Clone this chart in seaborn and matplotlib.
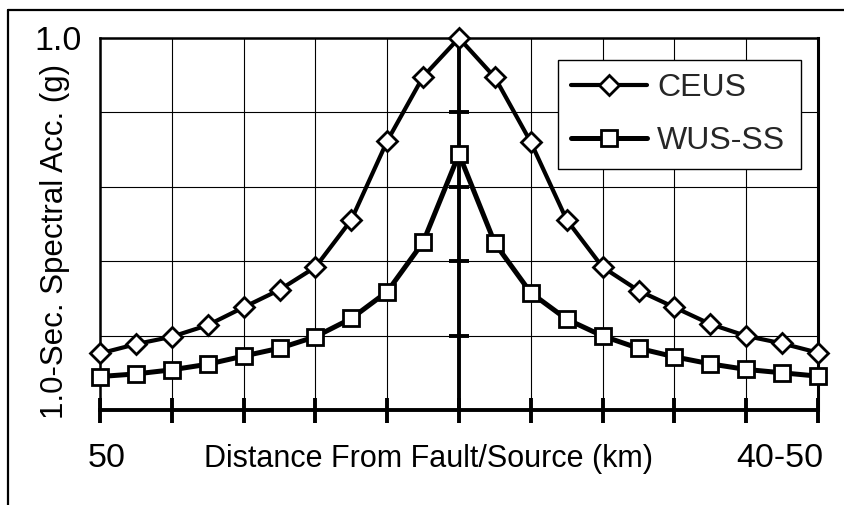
import matplotlib
matplotlib.use("Agg")
import matplotlib.pyplot as plt
import seaborn as sns
import pandas as pd
from matplotlib.lines import Line2D

# ---- data ----
distance_km = [-50, -45, -40, -35, -30, -25, -20, -15, -10, -5, 0,
               5, 10, 15, 20, 25, 30, 35, 40, 45, 50]
ceus = [0.152, 0.177, 0.197, 0.228, 0.276, 0.323, 0.384, 0.511, 0.723, 0.896, 1.0,
        0.894, 0.720, 0.511, 0.384, 0.321, 0.276, 0.231, 0.199, 0.179, 0.154]
wus_ss = [0.090, 0.097, 0.108, 0.123, 0.145, 0.166, 0.197, 0.246, 0.318, 0.451, 0.688,
          0.448, 0.315, 0.244, 0.199, 0.166, 0.143, 0.124, 0.109, 0.100, 0.091]
series_names = ["CEUS", "WUS-SS"]
x_ticks = [-50, -40, -30, -20, -10, 0, 10, 20, 30, 40, 50]
y_ticks = [0.0, 0.2, 0.4, 0.6, 0.8, 1.0]
y_tick_labels = ["", "", "", "", "", "1.0"]
center_marks = [0.2, 0.4, 0.6, 0.8]
x_end_labels = ["50", "40-50"]
x_label = "Distance From Fault/Source (km)"
y_label = "1.0-Sec. Spectral Acc. (g)"

df_ceus = pd.DataFrame({"distance": distance_km, "acc": ceus})
df_wus = pd.DataFrame({"distance": distance_km, "acc": wus_ss})

sns.set_theme(style="white")
plt.rcParams["font.family"] = ["Liberation Sans", "DejaVu Sans"]

fig = plt.figure(figsize=(8.44, 5.05), dpi=100)
ax = fig.add_axes([100/844, 1 - 410/505, 718/844, 372/505])

# grid
ax.set_xlim(-50, 50)
ax.set_ylim(0, 1.0)
ax.set_xticks(x_ticks)
ax.set_xticklabels([""] * len(x_ticks))
ax.set_yticks(y_ticks)
ax.set_yticklabels(y_tick_labels, fontsize=24.5)
ax.grid(True, color="black", linewidth=0.8, zorder=0)
ax.set_axisbelow(True)

# central fault line with small marks
ax.axvline(0, color="black", linewidth=2.8, zorder=2)
ax.plot([0] * len(center_marks), center_marks, linestyle="none", marker="_",
        markersize=15, markeredgewidth=2.8, color="black", zorder=2)

common = dict(color="black", markerfacecolor="white", markeredgecolor="black",
              clip_on=False, zorder=4)
sns.lineplot(data=df_ceus, x="distance", y="acc", ax=ax, marker="D",
             markersize=10.5, markeredgewidth=2.0, linewidth=3.0,
             label=series_names[0], **common)
sns.lineplot(data=df_wus, x="distance", y="acc", ax=ax, marker="s",
             markersize=11, markeredgewidth=2.0, linewidth=3.6,
             label=series_names[1], **common)

# spines
for side, lw in [("top", 1.8), ("left", 1.8), ("right", 2.2), ("bottom", 2.8)]:
    ax.spines[side].set_visible(True)
    ax.spines[side].set_color("black")
    ax.spines[side].set_linewidth(lw)

ax.tick_params(axis="x", direction="inout", length=18, width=2.8,
               color="black", bottom=True)
ax.tick_params(axis="y", length=0, pad=13, labelcolor="black")

# labels
ax.set_xlabel("")
ax.set_ylabel(y_label, fontsize=22.5, color="black")
ax.yaxis.set_label_coords(-0.042, (410 - 241) / 372)

xt = ax.get_xaxis_transform()
base_y = (410 - 467) / 372
ax.text(-49.1, base_y, x_end_labels[0], transform=xt, ha="center",
        va="baseline", fontsize=24.5, color="black")
ax.text(50.7, base_y, x_end_labels[1], transform=xt, ha="right",
        va="baseline", fontsize=24.5, color="black")
ax.text(-4.2, base_y, x_label, transform=xt, ha="center",
        va="baseline", fontsize=22, color="black")

# legend
leg = ax.legend(loc="upper left",
                bbox_to_anchor=((558 - 100) / 718, 0.6, 243 / 718, (410 - 60) / 372 - 0.6),
                mode="expand", borderaxespad=0, fontsize=23, frameon=True,
                fancybox=False, framealpha=1, edgecolor="black",
                handlelength=2.4, handletextpad=0.3, labelspacing=0.72,
                borderpad=0.4)
leg.get_frame().set_linewidth(1.0)
leg.set_zorder(6)

# outer frame (top and left)
fig.add_artist(Line2D([8/844, 1.0], [1 - 10/505, 1 - 10/505],
                      transform=fig.transFigure, color="black", linewidth=1.6))
fig.add_artist(Line2D([8/844, 8/844], [0.0, 1 - 10/505],
                      transform=fig.transFigure, color="black", linewidth=1.6))

fig.savefig("out.png", dpi=100, facecolor="white")
